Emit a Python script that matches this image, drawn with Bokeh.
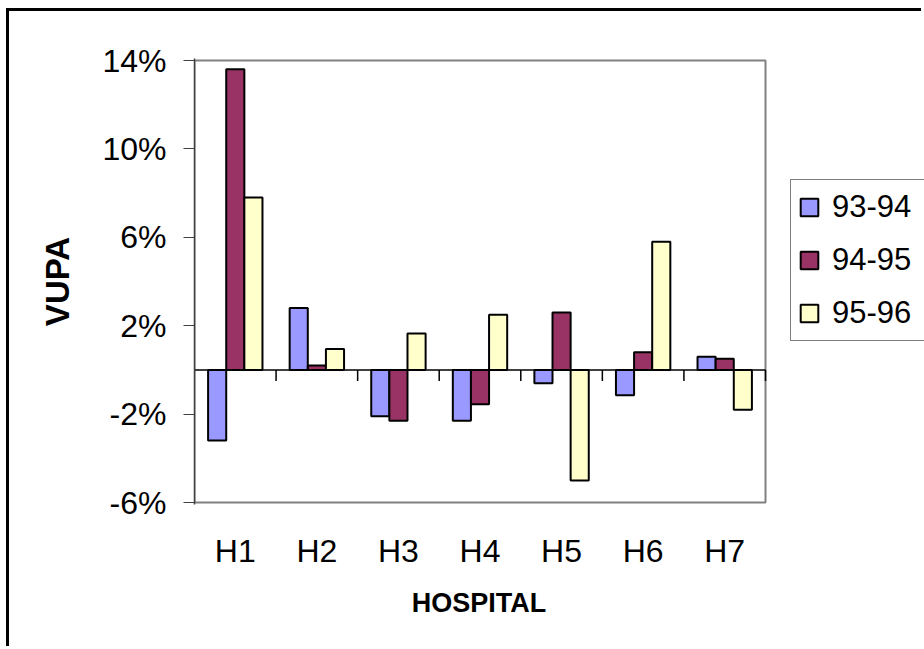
from bokeh.plotting import figure
from bokeh.models import (ColumnDataSource, FixedTicker, NumeralTickFormatter, Legend,
                          LegendItem, Range1d, CustomJSTickFormatter, Title)
from bokeh.embed import file_html
from bokeh.resources import INLINE

# ---- data ----
hospitals = ["H1", "H2", "H3", "H4", "H5", "H6", "H7"]
series_names = ["93-94", "94-95", "95-96"]
s_93_94 = [-0.032, 0.028, -0.021, -0.023, -0.006, -0.0115, 0.006]
s_94_95 = [0.136, 0.002, -0.023, -0.0155, 0.026, 0.008, 0.005]
s_95_96 = [0.078, 0.0095, 0.0165, 0.025, -0.050, 0.058, -0.018]
y_ticks = [-0.06, -0.02, 0.02, 0.06, 0.10, 0.14]
y_min, y_max = -0.06, 0.14

colors = ["#9999FF", "#993366", "#FFFFCC"]
FONT = "Liberation Sans"

n = len(hospitals)
centers = [i + 0.5 for i in range(n)]
bounds = [i + 1 for i in range(n)]
bw = 1 / 4.5  # Excel gap width 150%

# ---- layout constants (pixels in the 924x649 window) ----
OFF_X, OFF_Y = 9, 11            # outer frame drawn as CSS border
PLOT_L, PLOT_R = 194, 765       # plot area
PLOT_T, PLOT_B = 60, 502
PAD = 2                         # frame padding so the grey border isn't clipped
W, H = 924 - OFF_X, 649 - OFF_Y

unit_y = (y_max - y_min) / (PLOT_B - PLOT_T)
pad_y = PAD * unit_y
x_end = n * (924 - PLOT_L) / (PLOT_R - PLOT_L)

p = figure(width=W, height=H, x_range=Range1d(0, x_end),
           y_range=Range1d(y_min - pad_y, y_max + pad_y), output_backend="svg",
           toolbar_location=None, min_border_left=PLOT_L - OFF_X, min_border_right=0,
           min_border_top=PLOT_T - PAD - OFF_Y, min_border_bottom=649 - PLOT_B - PAD)
p.styles = {"border-left": "3px solid black", "border-top": "3px solid black",
            "margin-left": "6px", "margin-top": "8px"}
p.background_fill_color = "white"
p.border_fill_color = "white"
p.outline_line_color = None
p.xgrid.visible = False
p.ygrid.visible = False

# grey plot-area border
p.quad(left=0, right=n, bottom=y_min, top=y_max, fill_color=None,
       line_color="#808080", line_width=2)

renderers = []
for k, (vals, colr) in enumerate(zip([s_93_94, s_94_95, s_95_96], colors)):
    src = ColumnDataSource(dict(x=[c + (k - 1) * bw for c in centers], top=vals))
    r = p.vbar(x="x", top="top", bottom=0, width=bw, source=src, fill_color=colr,
               line_color="black", line_width=2)
    renderers.append(r)

# zero line
p.segment(x0=0, y0=0, x1=n, y1=0, line_color="black", line_width=1.5)

# category boundary tick marks hanging from zero line
tick_len = 11 * unit_y
p.segment(x0=bounds, y0=[0] * n, x1=bounds, y1=[-tick_len] * n,
          line_color="black", line_width=1.5)

# y axis
ya = p.yaxis[0]
ya.ticker = FixedTicker(ticks=y_ticks)
ya.formatter = NumeralTickFormatter(format="0%")
ya.major_tick_out = 11
ya.major_tick_in = 0
ya.minor_tick_line_color = None
ya.major_tick_line_color = "#404040"
ya.axis_line_color = "#404040"
ya.axis_line_width = 1.5
ya.major_label_standoff = 17
ya.major_label_text_font = FONT
ya.major_label_text_font_size = "32px"
ya.major_label_text_color = "black"
ya.axis_label = "VUPA"
ya.axis_label_text_font = FONT
ya.axis_label_text_font_style = "bold"
ya.axis_label_text_font_size = "33px"
ya.axis_label_text_color = "black"
ya.axis_label_standoff = 23

# x axis (category labels)
xa = p.xaxis[0]
xa.ticker = FixedTicker(ticks=centers)
xa.formatter = CustomJSTickFormatter(args=dict(names=hospitals),
                                     code="return names[Math.floor(tick)] || '';")
xa.axis_line_color = None
xa.major_tick_line_color = None
xa.minor_tick_line_color = None
xa.major_tick_out = 0
xa.major_tick_in = 0
xa.major_label_standoff = 28
xa.major_label_text_font = FONT
xa.major_label_text_font_size = "32px"
xa.major_label_text_color = "black"

# x axis title, centred under the plot area
title_w = 5.056 * 27
p.add_layout(Title(text="HOSPITAL", align="left",
                   offset=(PLOT_L + PLOT_R) / 2 - title_w / 2 - PLOT_L,
                   text_font=FONT, text_font_style="bold", text_font_size="27px",
                   text_color="black", standoff=29), "below")

# legend
items = [LegendItem(label=s, renderers=[r]) for s, r in zip(series_names, renderers)]
legend = Legend(items=items, location=(790 - PLOT_L, PLOT_B + PAD - 341))
legend.label_text_font = FONT
legend.label_text_font_size = "31px"
legend.label_text_color = "black"
legend.glyph_width = 22
legend.glyph_height = 22
legend.label_standoff = 12
legend.label_height = 40
legend.label_width = 100
legend.padding = 7
legend.spacing = 13
legend.margin = 0
legend.border_line_color = "black"
legend.border_line_width = 1.5
legend.background_fill_color = "white"
legend.background_fill_alpha = 1
p.add_layout(legend)

open("out.html", "w").write(file_html(p, INLINE))
